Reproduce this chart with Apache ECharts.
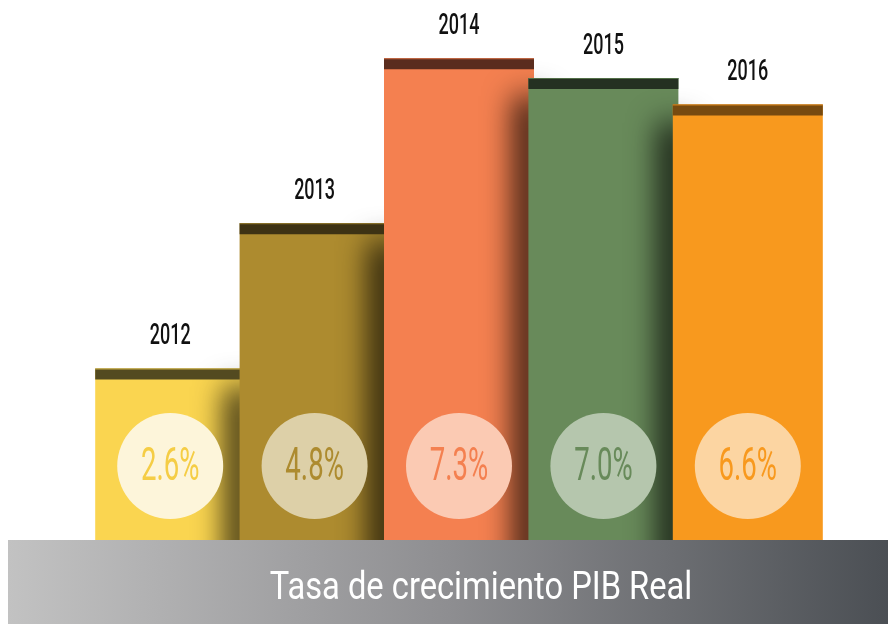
<!DOCTYPE html>
<html><head><meta charset="utf-8">
<script src="https://cdn.jsdelivr.net/npm/echarts@6/dist/echarts.min.js"></script>
<style>html,body{margin:0;padding:0;background:#fff}#c{width:888px;height:624px}</style>
</head><body><div id="c"></div>
<script>
const years = ['2012', '2013', '2014', '2015', '2016'];
const growth = [2.6, 4.8, 7.3, 7.0, 6.6];
const percentLabels = ['2.6%', '4.8%', '7.3%', '7.0%', '6.6%'];
const chartTitle = 'Tasa de crecimiento PIB Real';

const barColors = ['#fad550', '#ad8b2f', '#f48050', '#688a5a', '#f8991e'];
const capColors = ['#534a20', '#3d3214', '#5a2c1e', '#243021', '#774a10'];
const circleColors = ['#fdf5da', '#ddd0a8', '#fbcab3', '#b5c6ad', '#fcd5a2'];
const textColors = ['#f5cd45', '#ad8b2f', '#f48050', '#688a5a', '#f8991e'];

const FONT = 'Roboto';
const chart = echarts.init(document.getElementById('c'), null, {renderer: 'canvas'});

function renderItem(params, api) {
  const i = params.dataIndex;
  const v = api.value(1);
  const top = api.coord([i, v]);
  const base = api.coord([i, 0]);
  const w = 150;
  const cx = top[0];
  const x0 = cx - w / 2, x1 = cx + w / 2;
  const yT = top[1], yB = base[1];
  const cap = 11;
  const children = [];
  children.push({type: 'rect', shape: {x: x0, y: yT, width: w, height: yB - yT}, style: {fill: barColors[i]}});
  if (i < years.length - 1) {
    const nextTop = api.coord([i + 1, growth[i + 1]])[1];
    const sy = Math.max(yT, nextTop) + 18;
    children.push({type: 'rect',
      shape: {x: x1 - 20 + 3000, y: sy, width: 30, height: yB - sy + 40},
      style: {fill: '#000', shadowBlur: 30, shadowColor: 'rgba(0,0,0,0.8)', shadowOffsetX: -3000}});
  }
  children.push({type: 'rect', shape: {x: x0, y: yT, width: w, height: cap}, style: {fill: capColors[i]}});
  children.push({type: 'rect', shape: {x: x0, y: yT, width: w, height: 1}, style: {fill: barColors[i], opacity: 0.7}});
  const cy = yB - 74;
  children.push({type: 'circle', shape: {cx: cx, cy: cy, r: 53}, style: {fill: circleColors[i]}});
  children.push({type: 'text', x: cx, y: cy + 2, scaleX: 0.6,
    style: {text: percentLabels[i], fontFamily: FONT, fontSize: 46, fontWeight: 400, fill: textColors[i],
      align: 'center', verticalAlign: 'middle'}});
  children.push({type: 'text', x: cx, y: yT - 32, scaleX: 0.6,
    style: {text: years[i], fontFamily: FONT, fontSize: 30, fontWeight: 500, fill: '#111',
      align: 'center', verticalAlign: 'middle'}});
  return {type: 'group', children: children};
}

chart.setOption({
  animation: false,
  grid: {left: 98, right: 68, top: 12, bottom: 84},
  xAxis: {type: 'category', data: years, show: false},
  yAxis: {type: 'value', min: 0, max: 8, show: false},
  series: [{
    type: 'custom',
    renderItem: renderItem,
    data: years.map((y, i) => [i, growth[i]]),
    z: 2
  }],
  graphic: [
    {type: 'rect', z: 10, shape: {x: 8, y: 540, width: 880, height: 84},
      style: {fill: new echarts.graphic.LinearGradient(0, 0, 1, 0, [
        {offset: 0, color: '#c2c2c2'}, {offset: 0.5, color: '#8e8e91'}, {offset: 1, color: '#4b4f54'}])}},
    {type: 'text', z: 11, x: 481, y: 589, scaleX: 0.86,
      style: {text: chartTitle, fontFamily: FONT, fontSize: 38, fill: '#ffffff',
        align: 'center', verticalAlign: 'middle'}}
  ]
});
</script></body></html>
